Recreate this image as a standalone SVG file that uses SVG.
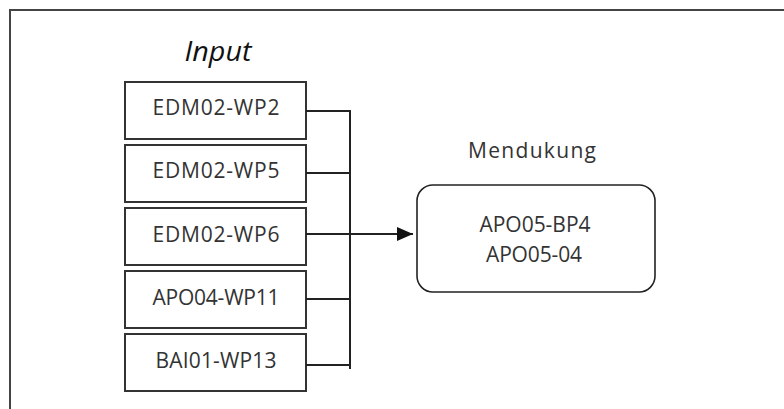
<svg xmlns="http://www.w3.org/2000/svg" width="784" height="409" viewBox="0 0 784 409">
<style>
  .frame { fill: none; stroke: #444; stroke-width: 2; }
  .box { fill: #fff; stroke: #333; stroke-width: 2; }
  .rbox { fill: #fff; stroke: #222; stroke-width: 1.6; }
  .lbl { font-family: "Open Sans", "Liberation Sans", Arial, sans-serif; font-size: 21px; fill: #333; text-anchor: middle; }
  .title { font-family: "Open Sans", "Liberation Sans", Arial, sans-serif; font-size: 28px; font-style: italic; fill: #111; text-anchor: middle; }
  .conn { fill: none; stroke: #222; stroke-width: 2; }
</style>
<defs>
  <marker id="arrow" markerWidth="16" markerHeight="14" refX="16" refY="7" orient="auto" markerUnits="userSpaceOnUse">
    <path d="M0,0 L16,7 L0,14 Z" fill="#111"/>
  </marker>
</defs>
<rect width="784" height="409" fill="#fff"/>
<path class="frame" d="M10,409 L10,10 L784,10"/>
<text class="title" x="218" y="61" textLength="67" lengthAdjust="spacingAndGlyphs">Input</text>
<g id="n1"><rect class="box" x="125" y="82" width="181" height="57"/><text class="lbl" x="216" y="115" textLength="127">EDM02-WP2</text></g>
<g id="n2"><rect class="box" x="125" y="145" width="181" height="57"/><text class="lbl" x="216" y="178" textLength="127">EDM02-WP5</text></g>
<g id="n3"><rect class="box" x="125" y="208" width="181" height="57"/><text class="lbl" x="216" y="242" textLength="127">EDM02-WP6</text></g>
<g id="n4"><rect class="box" x="125" y="271" width="181" height="57"/><text class="lbl" x="216" y="305" textLength="127">APO04-WP11</text></g>
<g id="n5"><rect class="box" x="125" y="334" width="181" height="57"/><text class="lbl" x="216" y="368" textLength="121">BAI01-WP13</text></g>
<g id="target">
  <text class="lbl" x="532" y="158" textLength="128">Mendukung</text>
  <rect class="rbox" x="417" y="185" width="238" height="107" rx="16" ry="16"/>
  <text class="lbl" x="535" y="232" textLength="111">APO05-BP4</text>
  <text class="lbl" x="534" y="262" textLength="96">APO05-04</text>
</g>
<g id="connectors">
  <path class="conn" d="M306,111 H350 M306,173 H350 M306,234 H350 M306,299 H350 M306,365 H350 M350,110 V369"/>
  <path class="conn" d="M350,234 H413" marker-end="url(#arrow)"/>
</g>
</svg>
